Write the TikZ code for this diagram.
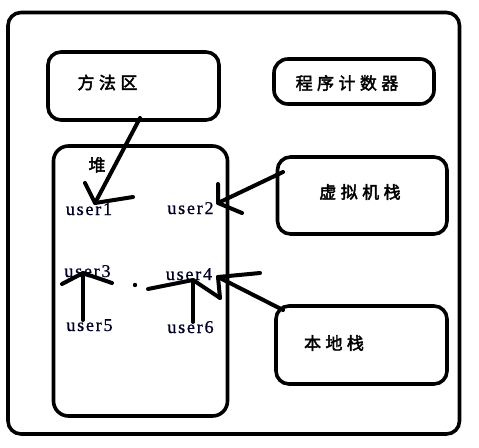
\documentclass[tikz,border=0pt]{standalone}
\usepackage{fontspec}
\setmainfont{Liberation Serif}
\newfontfamily\cjkfont{Noto Sans CJK SC}[LetterSpace=26,FakeBold=2.5]
\newfontfamily\userfont{Liberation Serif}[LetterSpace=10,FakeBold=0.8]
\begin{document}
\begin{tikzpicture}[x=1pt,y=-1pt,
  box/.style={draw=black,line width=3.6pt,rounded corners=13pt,inner sep=0pt},
  cjk/.style={font=\cjkfont\fontsize{17}{19}\selectfont,inner sep=0pt},
  usr/.style={font=\userfont\fontsize{18}{20}\selectfont,inner sep=0pt,anchor=base,text=black!85!blue},
  pen/.style={line width=4pt,line cap=round,line join=round}]
\useasboundingbox (0,0) rectangle (479,447);
\fill[white] (0,0) rectangle (479,447);
% boxes
\node[box,minimum width=451.5pt,minimum height=421.5pt] (outer) at (233.75,223.25) {};
\node[box,minimum width=171pt,minimum height=68pt] (method) at (133.5,86) {};
\node[box,minimum width=160pt,minimum height=45pt,rounded corners=14pt] (pc) at (354,81.5) {};
\node[box,minimum width=174pt,minimum height=270pt,rounded corners=15pt] (heap) at (140.5,281) {};
\node[box,minimum width=169.5pt,minimum height=77pt] (vm) at (362.25,195.5) {};
\node[box,minimum width=171pt,minimum height=78pt] (native) at (361.5,345) {};
% texts
\node[cjk] (tmethod) at (107.5,82.5) {方法区};
\node[cjk] (tpc) at (347,83) {程序计数器};
\node[cjk] (theap) at (97,165) {堆};
\node[cjk] (tvm) at (360,192) {虚拟机栈};
\node[cjk] (tnative) at (334,343) {本地栈};
\node[usr] (u1) at (89,215) {user1};
\node[usr] (u2) at (190.5,214) {user2};
\node[usr] (u3) at (87.5,277) {user3};
\node[usr] (u4) at (189,280) {user4};
\node[usr] (u5) at (89.5,331) {user5};
\node[usr] (u6) at (190.5,333) {user6};
% connector points
\coordinate (m1) at (140,118);
\coordinate (t1) at (95,203);
\coordinate (v1) at (283,172);
\coordinate (t2) at (218,203);
\coordinate (s5) at (83,320);
\coordinate (t3) at (83,273);
\coordinate (s6) at (193,322);
\coordinate (t4) at (193,280);
\coordinate (n1) at (283,310);
\coordinate (t5) at (218,277);
\coordinate (dot) at (135,285);
% connectors
\draw[pen] (m1) -- (t1);
\draw[pen] (85,183) -- (t1) -- (133,197);
\draw[pen] (v1) -- (t2);
\draw[pen] (218,184) -- (t2) -- (242,213);
\draw[pen] (s5) -- (t3);
\draw[pen] (62,284) -- (t3) -- (112,283);
\draw[pen] (s6) -- (t4);
\draw[pen] (148,289) -- (t4) -- (220,298);
\draw[pen] (n1) -- (t5);
\draw[pen] (260,273) -- (t5) -- (220,298);
\fill (dot) circle (2.2pt);
\end{tikzpicture}
\end{document}
